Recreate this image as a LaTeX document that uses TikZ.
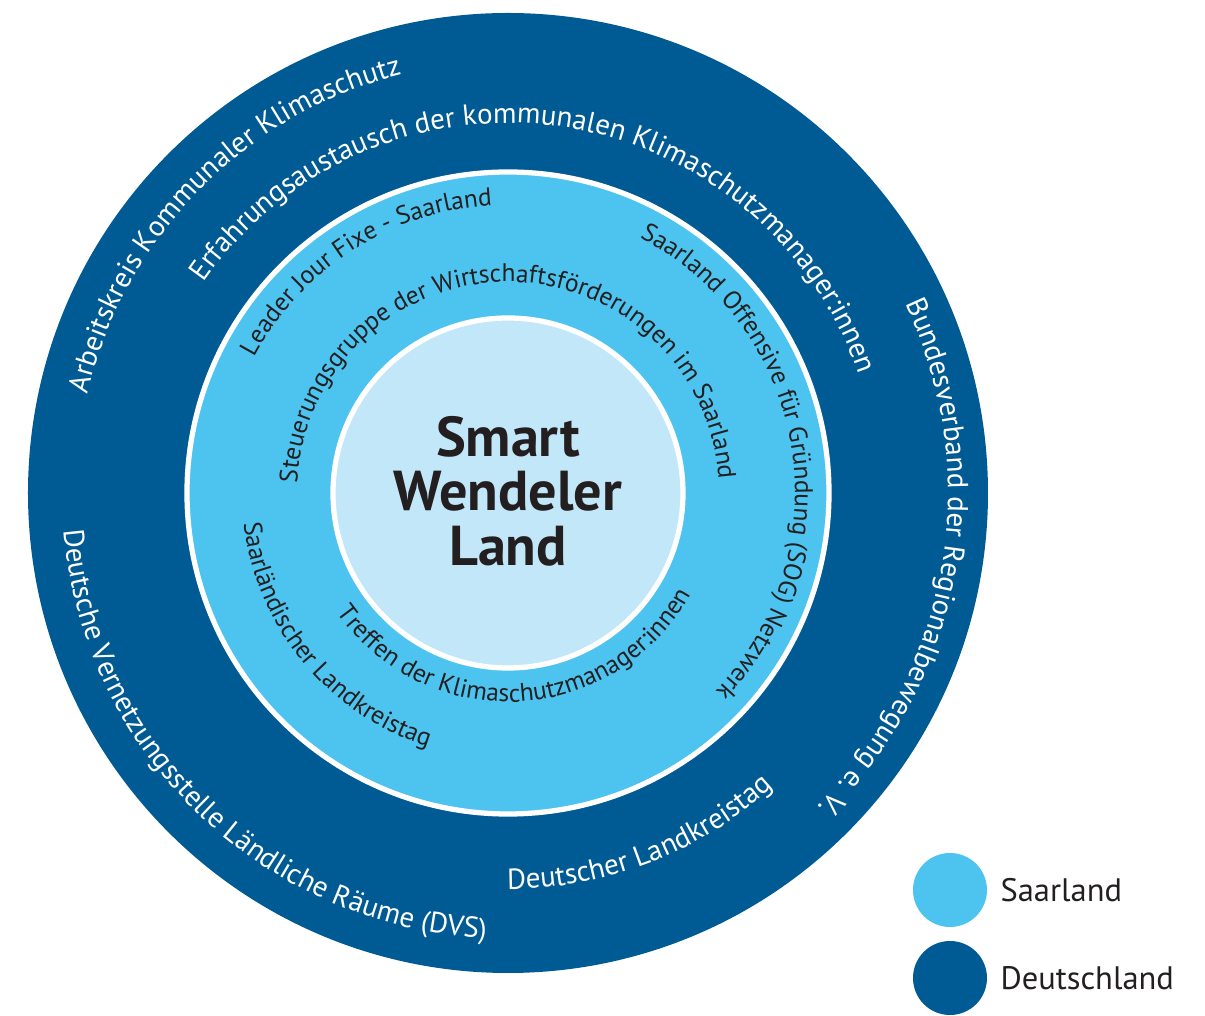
\documentclass[tikz,border=0pt]{standalone}
\usepackage{fontspec}
\setmainfont{PT Sans}
\usetikzlibrary{decorations.text,positioning}
\definecolor{deutschblau}{RGB}{0,90,147}
\definecolor{saarblau}{RGB}{77,195,240}
\definecolor{kernblau}{RGB}{194,231,248}
\definecolor{schrift}{RGB}{35,31,32}
\newcommand\aussenschrift{\fontsize{16.5}{18}\selectfont\color{white}}
\newcommand\innenschrift{\fontsize{14.5}{16}\selectfont\color{schrift}}
\tikzset{
  ring/.style={circle, inner sep=0pt, draw=white, line width=3pt},
  bogen/.style={decorate, decoration={text along path, text align=center, text={#1}}},
  legende/.style={circle, inner sep=0pt, minimum size=74*0.02cm},
}
\begin{document}
\begin{tikzpicture}[x=0.02cm,y=0.02cm]
      \useasboundingbox (-508,-523) rectangle (697,493);
      % Ringe
      \node[circle, inner sep=0pt, fill=deutschblau, minimum size=960*0.02cm] (deutschland) at (0,0) {};
      \node[ring, fill=saarblau, minimum size=642*0.02cm] (saarland) at (0,0) {};
      \node[ring, fill=kernblau, minimum size=350*0.02cm] (kern) at (0,0) {};
      \node[font=\fontsize{32}{31}\selectfont\bfseries, text=schrift, align=center] (titel) at (0,2) {Smart\\Wendeler\\Land};
      % aeusserer Ring
      \path[bogen={|\aussenschrift|Arbeitskreis Kommunaler Klimaschutz}] (180.5:432) arc[start angle=180.5, end angle=90.5, radius=432];
      \path[bogen={|\aussenschrift|Erfahrungsaustausch der kommunalen Klimaschutzmanager:innen}] (170:370) arc[start angle=170, end angle=-6, radius=370];
      \path[bogen={|\aussenschrift|Bundesverband der Regionalbewegung e. V.}] (45:440) arc[start angle=45, end angle=-65, radius=440];
      \path[bogen={|\aussenschrift|Deutsche Vernetzungsstelle Ländliche Räume (DVS)}] (170:446) arc[start angle=170, end angle=282, radius=446];
      \path[bogen={|\aussenschrift|Deutscher Landkreistag}] (249:396) arc[start angle=249, end angle=333, radius=396];
      % mittlerer Ring
      \path[bogen={|\innenschrift|Leader Jour Fixe - Saarland}] (167:288) arc[start angle=167, end angle=78, radius=288];
      \path[bogen={|\innenschrift|Saarland Offensive für Gründung (SOG) Netzwerk}] (80:287) arc[start angle=80, end angle=-61, radius=287];
      \path[bogen={|\innenschrift|Steuerungsgruppe der Wirtschaftsförderungen im Saarland}] (190:211) arc[start angle=190, end angle=-9, radius=211];
      \path[bogen={|\innenschrift|Saarländischer Landkreistag}] (176:266) arc[start angle=176, end angle=263, radius=266];
      \path[bogen={|\innenschrift|Treffen der Klimaschutzmanager:innen}] (199:209) arc[start angle=199, end angle=347, radius=209];
      % Legende
      \node[legende, fill=saarblau] (leg1) at (442,-397) {};
      \node[legende, fill=deutschblau] (leg2) at (442,-485) {};
      \node[right=4pt of leg1, font=\fontsize{18.5}{20}\selectfont, text=schrift] (leg1text) {Saarland};
      \node[right=4pt of leg2, font=\fontsize{18.5}{20}\selectfont, text=schrift] (leg2text) {Deutschland};
\end{tikzpicture}
\end{document}
